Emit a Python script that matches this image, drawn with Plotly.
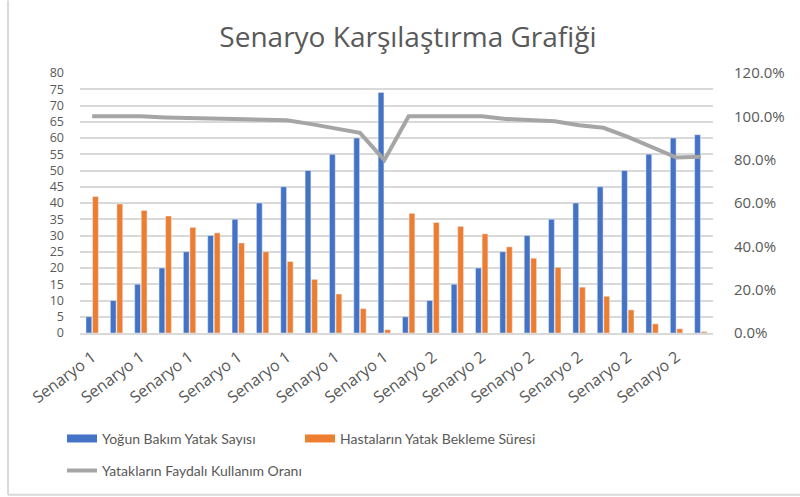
import plotly.graph_objects as go

categories = ["Senaryo 1"] * 13 + ["Senaryo 2"] * 13
yatak_sayisi = [5, 10, 15, 20, 25, 30, 35, 40, 45, 50, 55, 60, 74,
                5, 10, 15, 20, 25, 30, 35, 40, 45, 50, 55, 60, 61]
bekleme_suresi = [42, 39.7, 37.7, 36, 32.5, 30.8, 27.7, 25, 22, 16.5, 12, 7.5, 1,
                  36.8, 34, 32.8, 30.5, 26.5, 23, 20.2, 14.1, 11.3, 7.1, 2.8, 1.3, 0.4]
kullanim_orani = [1.0, 1.0, 1.0, 0.995, 0.993, 0.99, 0.987, 0.985, 0.982, 0.964, 0.944, 0.924, 0.798,
                  1.0, 1.0, 1.0, 1.0, 0.988, 0.982, 0.977, 0.959, 0.947, 0.905, 0.859, 0.81, 0.813]

names = ["Yoğun Bakım Yatak Sayısı", "Hastaların Yatak Bekleme Süresi",
         "Yatakların Faydalı Kullanım Oranı"]
colors = ["#4472c4", "#ed7d31", "#a5a5a5"]

x_idx = list(range(len(categories)))
tick_font = "'Open Sans', sans-serif"
legend_font = "Lato, sans-serif"
grey_text = "#595959"

fig = go.Figure()
fig.add_trace(go.Bar(x=x_idx, y=yatak_sayisi, name=names[0], marker_color=colors[0],
                     showlegend=False))
fig.add_trace(go.Bar(x=x_idx, y=bekleme_suresi, name=names[1], marker_color=colors[1],
                     showlegend=False))
fig.add_trace(go.Scatter(x=x_idx, y=kullanim_orani, name=names[2], mode="lines",
                         line=dict(color=colors[2], width=4), yaxis="y2", legend="legend3"))
# legend-only entries drawn as wide rectangles like the reference
fig.add_trace(go.Scatter(x=[None], y=[None], name=names[0], mode="lines",
                         line=dict(color=colors[0], width=8), legend="legend"))
fig.add_trace(go.Scatter(x=[None], y=[None], name=names[1], mode="lines",
                         line=dict(color=colors[1], width=8), legend="legend2"))

px0, px1, py0, py1 = 80, 713, 72.7, 333


def xp(p):
    return (p - px0) / (px1 - px0)


def yp(p):
    return (py1 - p) / (py1 - py0)


legend_style = dict(orientation="h", xanchor="left", yanchor="middle",
                    font=dict(size=14, color=grey_text, family=legend_font))

fig.update_layout(
    width=800, height=497,
    margin=dict(l=px0, r=800 - px1, t=py0, b=497 - py1, autoexpand=False),
    paper_bgcolor="white", plot_bgcolor="white",
    font=dict(family=tick_font, color=grey_text),
    title=dict(text="Senaryo Karşılaştırma Grafiği", x=408 / 800, xanchor="center",
               y=1 - 37 / 497, yanchor="middle",
               font=dict(size=28, color=grey_text, family=tick_font)),
    barmode="group", bargap=0.46, bargroupgap=0.12,
    xaxis=dict(tickmode="array", tickvals=x_idx[::2], ticktext=categories[::2],
               tickangle=-37, tickfont=dict(size=16, color=grey_text),
               range=[-0.5, len(categories) - 0.5], showgrid=False,
               showline=True, linecolor="#d9d9d9", linewidth=1.5, ticks="",
               ticklabelstandoff=7),
    yaxis=dict(range=[0, 80], dtick=5, tickfont=dict(size=12.5, color=grey_text),
               gridcolor="#d9d9d9", gridwidth=1.5, zeroline=False, ticks="",
               ticklabelstandoff=15),
    yaxis2=dict(range=[0, 1.2], dtick=0.2, tickformat=".1%", overlaying="y", side="right",
                showgrid=False, zeroline=False, tickfont=dict(size=15, color=grey_text),
                ticklabelstandoff=20),
    legend=dict(x=xp(62), y=yp(439), **legend_style),
    legend2=dict(x=xp(300), y=yp(439), **legend_style),
    legend3=dict(x=xp(62), y=yp(471), **legend_style),
    showlegend=True,
)

fig.add_shape(type="line", xref="paper", yref="paper", x0=xp(8), x1=xp(8), y0=yp(495), y1=yp(0),
              line=dict(color="#d9d9d9", width=2))
fig.add_shape(type="line", xref="paper", yref="paper", x0=xp(8), x1=xp(800), y0=yp(495), y1=yp(495),
              line=dict(color="#d9d9d9", width=2))

fig.write_html("out.html", config={"displayModeBar": False},
               post_script="document.body.style.margin='0';")
